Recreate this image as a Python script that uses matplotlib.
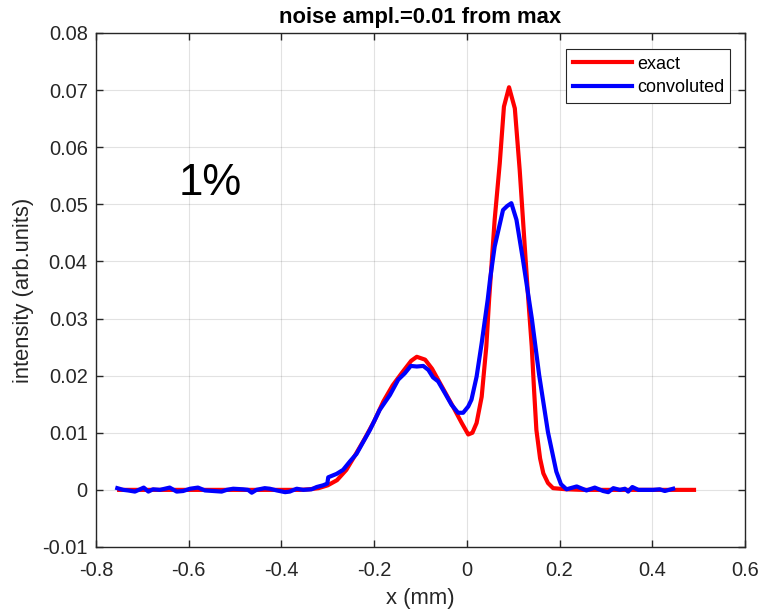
#!/usr/bin/env python3
"""
Exact vs convoluted intensity profile, MATLAB-ish look.
Saves out.png (763x613).
"""

import matplotlib
matplotlib.use("Agg")  # headless-safe
import matplotlib.pyplot as plt

# exact profile (red)
exactX = [-0.75, -0.70, -0.65, -0.60, -0.55, -0.50, -0.45, -0.40, -0.36, -0.34,
          -0.32, -0.30, -0.28, -0.26, -0.24, -0.22, -0.20, -0.18, -0.16, -0.14,
          -0.12, -0.108, -0.09, -0.075, -0.058, -0.045, -0.03, -0.011, 0.003,
          0.012, 0.021, 0.032, 0.042, 0.048, 0.060, 0.071, 0.080, 0.091, 0.1035,
          0.114, 0.125, 0.132, 0.140, 0.145, 0.150, 0.158, 0.165, 0.175, 0.186,
          0.215, 0.25, 0.30, 0.35, 0.40, 0.45, 0.49]
exactY = [0.0, 0.0, 0.0, 0.0, 0.0, 0.0, 0.0, 0.0, 0.0, 0.0001,
          0.0003, 0.0008, 0.0017, 0.0035, 0.0062, 0.0090, 0.0120, 0.0155, 0.0183, 0.0205,
          0.0226, 0.0233, 0.0228, 0.0212, 0.0187, 0.0168, 0.0146, 0.0117, 0.0097,
          0.0100, 0.0117, 0.0163, 0.0251, 0.0333, 0.0473, 0.0572, 0.0671, 0.0705, 0.0668,
          0.0560, 0.0425, 0.0340, 0.0251, 0.0175, 0.0105, 0.0055, 0.0029, 0.0012, 0.0003,
          0.0001, 0.0, 0.0, 0.0, 0.0, 0.0, 0.0]

# convoluted profile with noise (blue)
convX = [-0.754, -0.741, -0.731, -0.716, -0.705, -0.697, -0.687, -0.677, -0.662, -0.641,
         -0.626, -0.612, -0.597, -0.580, -0.565, -0.547, -0.529, -0.518, -0.504, -0.483,
         -0.472, -0.464, -0.454, -0.436, -0.425, -0.410, -0.392, -0.382, -0.367, -0.353,
         -0.335, -0.324, -0.310, -0.301, -0.299, -0.281, -0.267, -0.252, -0.238, -0.227,
         -0.209, -0.188, -0.166, -0.148, -0.134, -0.121, -0.108, -0.094, -0.083, -0.073,
         -0.062, -0.047, -0.033, -0.019, -0.008, 0.003, 0.010, 0.021, 0.032, 0.039,
         0.045, 0.050, 0.060, 0.078, 0.087, 0.096, 0.107, 0.121, 0.140, 0.156,
         0.175, 0.193, 0.203, 0.215, 0.237, 0.258, 0.276, 0.294, 0.305, 0.316,
         0.330, 0.341, 0.348, 0.357, 0.370, 0.388, 0.402, 0.416, 0.427, 0.445]
convY = [0.0003, 0.0, -0.0001, -0.0003, 0.0001, 0.0004, -0.0003, 0.0001, 0.0, 0.0004,
         -0.0003, -0.0002, 0.0002, 0.0004, -0.0001, -0.0002, -0.0003, 0.0, 0.0002, 0.0001,
         0.0, -0.0005, 0.0, 0.0003, 0.0002, -0.0001, -0.0004, -0.0003, 0.0002, 0.0,
         0.0001, 0.0005, 0.0008, 0.0011, 0.0022, 0.0028, 0.0035, 0.0050, 0.0063, 0.0079,
         0.0105, 0.0140, 0.0166, 0.0193, 0.0204, 0.0217, 0.0216, 0.0217, 0.0210, 0.0197,
         0.0190, 0.0169, 0.0149, 0.0135, 0.0135, 0.0146, 0.0158, 0.0198, 0.0257, 0.0298,
         0.0333, 0.0368, 0.0426, 0.0490, 0.0497, 0.0502, 0.0473, 0.0403, 0.0301, 0.0201,
         0.0101, 0.0032, 0.0010, 0.0001, 0.0006, -0.0001, 0.0004, -0.0002, -0.0004, 0.0003,
         0.0, 0.0002, -0.0003, 0.0005, 0.0, 0.0, 0.0, 0.0001, -0.0002, 0.0002]

xTicks = [-0.8, -0.6, -0.4, -0.2, 0, 0.2, 0.4, 0.6]
xTickLabels = ["-0.8", "-0.6", "-0.4", "-0.2", "0", "0.2", "0.4", "0.6"]
yTicks = [-0.01, 0, 0.01, 0.02, 0.03, 0.04, 0.05, 0.06, 0.07, 0.08]
yTickLabels = ["-0.01", "0", "0.01", "0.02", "0.03", "0.04", "0.05", "0.06", "0.07", "0.08"]

AXIS_COLOR = "#262626"

plt.rcParams["font.family"] = ["Liberation Sans", "DejaVu Sans"]


def main():
    fig = plt.figure(figsize=(7.63, 6.13), dpi=100)
    ax = fig.add_axes([0.1258, 0.1077, 0.8506, 0.8385])

    ax.plot(exactX, exactY, color="#ff0000", linewidth=3, label="exact")
    ax.plot(convX, convY, color="#0000ff", linewidth=3, label="convoluted")

    ax.set_xlim(-0.8, 0.6)
    ax.set_ylim(-0.01, 0.08)
    ax.set_xticks(xTicks)
    ax.set_xticklabels(xTickLabels)
    ax.set_yticks(yTicks)
    ax.set_yticklabels(yTickLabels)
    ax.tick_params(direction="in", top=True, right=True, length=5, width=1.0,
                   colors=AXIS_COLOR, labelsize=14.4)
    ax.tick_params(axis="x", pad=10)
    ax.tick_params(axis="y", pad=6)
    for spine in ax.spines.values():
        spine.set_color(AXIS_COLOR)
        spine.set_linewidth(1.0)
    ax.grid(True, color="#262626", alpha=0.13, linewidth=0.8)
    ax.set_axisbelow(True)

    ax.set_xlabel("x (mm)", fontsize=15.8, color=AXIS_COLOR, labelpad=6)
    ax.set_ylabel("intensity (arb.units)", fontsize=15.8, color=AXIS_COLOR, labelpad=6)
    ax.set_title("noise ampl.=0.01 from max", fontsize=15.8, fontweight="bold",
                 color="black", pad=7)

    ax.text(-0.554, 0.0517, "1%", fontsize=31.5, ha="center", va="baseline")

    leg = ax.legend(loc="upper right", bbox_to_anchor=(0.9774, 0.9683),
                    borderaxespad=0, fontsize=13, frameon=True, fancybox=False,
                    handlelength=3.3, handletextpad=0.25, borderpad=0.35,
                    labelspacing=0.38)
    frame = leg.get_frame()
    frame.set_edgecolor(AXIS_COLOR)
    frame.set_linewidth(0.8)
    frame.set_alpha(1)

    fig.savefig("out.png", dpi=100)


if __name__ == "__main__":
    main()
